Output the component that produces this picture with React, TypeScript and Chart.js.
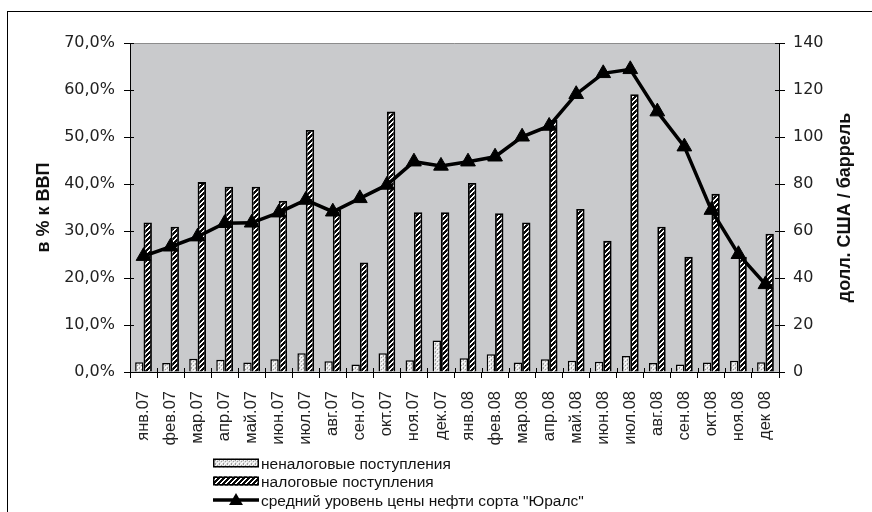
import React, { useEffect, useRef } from 'react';
import { Chart, registerables } from 'chart.js';

Chart.register(...registerables);

const categories = [
  'янв.07', 'фев.07', 'мар.07', 'апр.07', 'май.07', 'июн.07', 'июл.07', 'авг.07',
  'сен.07', 'окт.07', 'ноя.07', 'дек.07', 'янв.08', 'фев.08', 'мар.08', 'апр.08',
  'май.08', 'июн.08', 'июл.08', 'авг.08', 'сен.08', 'окт.08', 'ноя.08', 'дек 08',
];

// % of GDP
const nonTaxRevenue = [2.1, 1.9, 2.8, 2.6, 2.0, 2.7, 4.0, 2.3, 1.6, 4.0, 2.5, 6.7, 2.9, 3.8, 2.0, 2.7, 2.4, 2.2, 3.4, 1.9, 1.6, 2.0, 2.4, 2.1];
const taxRevenue = [31.8, 30.9, 40.4, 39.4, 39.4, 36.4, 51.5, 34.5, 23.3, 55.4, 34.0, 34.0, 40.2, 33.8, 31.8, 53.6, 34.7, 27.9, 59.1, 30.9, 24.5, 37.9, 24.5, 29.4];
// USD / barrel
const uralsPrice = [49.3, 53.3, 57.6, 63.3, 63.5, 67.8, 73.2, 68.2, 73.9, 79.6, 89.5, 87.7, 89.5, 91.6, 100.1, 104.7, 118.2, 127.1, 128.8, 110.8, 95.9, 68.9, 50.1, 37.3];

const leftAxisRange = [0, 70, 10];
const rightAxisRange = [0, 140, 20];

const seriesLabels = [
  'неналоговые поступления',
  'налоговые поступления',
  'средний уровень цены нефти сорта "Юралс"',
];
const leftTitle = 'в % к ВВП';
const rightTitle = 'долл. США / баррель';

function makeHatch(): CanvasPattern | string {
  const n = 5;
  const c = document.createElement('canvas');
  c.width = n; c.height = n;
  const g = c.getContext('2d');
  if (!g) return '#333';
  g.fillStyle = '#ffffff';
  g.fillRect(0, 0, n, n);
  g.fillStyle = '#0a0a0a';
  for (let x = 0; x < n; x++) for (let y = 0; y < n; y++) if ((x + y) % n < 3) g.fillRect(x, y, 1, 1);
  return g.createPattern(c, 'repeat') || '#333';
}

function makeDots(): CanvasPattern | string {
  const c = document.createElement('canvas');
  c.width = 4; c.height = 4;
  const g = c.getContext('2d');
  if (!g) return '#ddd';
  g.fillStyle = '#e4e4e4';
  g.fillRect(0, 0, 4, 4);
  g.fillStyle = '#ffffff';
  g.fillRect(0, 0, 1, 1); g.fillRect(2, 2, 1, 1); g.fillRect(1, 3, 1, 1);
  g.fillStyle = '#a0a0a0';
  g.fillRect(1, 1, 1, 1); g.fillRect(3, 3, 1, 1); g.fillRect(3, 0, 1, 1);
  return g.createPattern(c, 'repeat') || '#ddd';
}

function drawTriangle(ctx: CanvasRenderingContext2D, x: number, y: number, r: number) {
  ctx.beginPath();
  for (let i = 0; i < 3; i++) {
    const a = (i * 2 * Math.PI) / 3;
    const px = x + Math.sin(a) * r;
    const py = y - Math.cos(a) * r;
    if (i === 0) ctx.moveTo(px, py); else ctx.lineTo(px, py);
  }
  ctx.closePath();
  ctx.fill();
}

export default function App() {
  const ref = useRef<HTMLCanvasElement>(null);

  useEffect(() => {
    document.body.style.margin = '0';
    const canvas = ref.current;
    if (!canvas) return;
    const hatch = makeHatch();
    const dots = makeDots();

    const decor = {
      id: 'decor',
      beforeDraw(chart: any) {
        const { ctx, chartArea: a } = chart;
        ctx.save();
        ctx.fillStyle = '#ffffff';
        ctx.fillRect(0, 0, chart.width, chart.height);
        ctx.fillStyle = '#c9cacc';
        ctx.fillRect(a.left, a.top, a.right - a.left, a.bottom - a.top);
        ctx.strokeStyle = '#8c8c8c';
        ctx.lineWidth = 1;
        ctx.beginPath();
        ctx.moveTo(a.left, a.top + 0.5);
        ctx.lineTo(a.right, a.top + 0.5);
        ctx.stroke();
        ctx.strokeStyle = '#000';
        ctx.strokeRect(7.5, 11.5, chart.width, chart.height);
        ctx.restore();
      },
      afterDraw(chart: any) {
        const { ctx, chartArea: a, scales } = chart;
        ctx.save();
        // inner tick parts
        ctx.strokeStyle = '#000';
        ctx.lineWidth = 1;
        ctx.beginPath();
        scales.y.ticks.forEach((t: any) => {
          const py = Math.round(scales.y.getPixelForValue(t.value)) + 0.5;
          ctx.moveTo(a.left, py); ctx.lineTo(a.left + 4, py);
        });
        scales.y2.ticks.forEach((t: any) => {
          const py = Math.round(scales.y2.getPixelForValue(t.value)) + 0.5;
          ctx.moveTo(a.right - 4, py); ctx.lineTo(a.right, py);
        });
        const half = (scales.x.getPixelForValue(1) - scales.x.getPixelForValue(0)) / 2;
        for (let i = 0; i <= categories.length; i++) {
          const px = Math.round(scales.x.getPixelForValue(i) - half) + 0.5;
          ctx.moveTo(px, a.bottom); ctx.lineTo(px, a.bottom - 4);
        }
        ctx.stroke();

        // axis titles
        const cy = (a.top + a.bottom) / 2;
        ctx.fillStyle = '#111';
        ctx.font = 'bold 18px "Liberation Sans", Arial, sans-serif';
        ctx.textAlign = 'center';
        ctx.textBaseline = 'alphabetic';
        ctx.save();
        ctx.translate(49, cy);
        ctx.rotate(-Math.PI / 2);
        ctx.fillText(leftTitle, 0, 0);
        ctx.restore();
        ctx.save();
        ctx.translate(850, cy);
        ctx.rotate(-Math.PI / 2);
        ctx.fillText(rightTitle, 0, 0);
        ctx.restore();

        // legend
        const lx = 213, lw = 46, tx = 261;
        const rows = [463, 481, 500];
        ctx.font = '15.5px "Liberation Sans", Arial, sans-serif';
        ctx.textAlign = 'left';
        ctx.textBaseline = 'middle';
        [dots, hatch].forEach((p, i) => {
          ctx.fillStyle = p as any;
          ctx.fillRect(lx, rows[i] - 4.5, lw, 9);
          ctx.strokeStyle = '#000';
          ctx.lineWidth = 1.5;
          ctx.strokeRect(lx + 0.75, rows[i] - 4.5 + 0.75, lw - 1.5, 9 - 1.5);
        });
        ctx.strokeStyle = '#000';
        ctx.lineWidth = 3.5;
        ctx.beginPath();
        ctx.moveTo(lx, rows[2]); ctx.lineTo(lx + lw, rows[2]);
        ctx.stroke();
        ctx.fillStyle = '#000';
        drawTriangle(ctx, lx + lw / 2, rows[2] + 1, 8);
        ctx.fillStyle = '#111';
        seriesLabels.forEach((s, i) => ctx.fillText(s, tx, rows[i] + 2));
        ctx.restore();
      },
    };

    const numFont = { family: '"DejaVu Sans", sans-serif', size: 16 };

    const chart = new Chart(canvas, {
      type: 'bar',
      data: {
        labels: categories,
        datasets: [
          {
            type: 'line',
            label: seriesLabels[2],
            data: uralsPrice,
            yAxisID: 'y2',
            borderColor: '#000',
            backgroundColor: '#000',
            borderWidth: 3.5,
            pointStyle: 'triangle',
            pointRadius: 8.5,
            pointBackgroundColor: '#000',
            pointBorderColor: '#000',
            pointBorderWidth: 1,
            tension: 0,
            order: 0,
          } as any,
          {
            type: 'bar',
            label: seriesLabels[0],
            data: nonTaxRevenue,
            yAxisID: 'y',
            backgroundColor: dots as any,
            borderColor: '#000',
            borderWidth: 1.5,
            categoryPercentage: 0.62,
            barPercentage: 1,
            order: 1,
          },
          {
            type: 'bar',
            label: seriesLabels[1],
            data: taxRevenue,
            yAxisID: 'y',
            backgroundColor: hatch as any,
            borderColor: '#000',
            borderWidth: 1.8,
            categoryPercentage: 0.62,
            barPercentage: 1,
            order: 1,
          },
        ],
      },
      options: {
        responsive: false,
        maintainAspectRatio: false,
        animation: false,
        devicePixelRatio: 1,
        layout: { padding: { top: 43, left: 0, right: 0, bottom: 0 } },
        plugins: { legend: { display: false }, tooltip: { enabled: false } },
        scales: {
          x: {
            grid: { display: true, drawOnChartArea: false, drawTicks: true, tickLength: 6, color: '#000', offset: true },
            border: { display: true, color: '#000', width: 1 },
            ticks: {
              autoSkip: false,
              maxRotation: 90,
              minRotation: 90,
              padding: 13,
              color: '#222',
              font: { family: '"Liberation Sans", Arial, sans-serif', size: 16.5 },
            },
            afterFit: (s: any) => { s.height = 140; },
          },
          y: {
            position: 'left',
            min: leftAxisRange[0],
            max: leftAxisRange[1],
            grid: { display: true, drawOnChartArea: false, drawTicks: true, tickLength: 6, color: '#000' },
            border: { display: true, color: '#000', width: 1 },
            ticks: {
              stepSize: leftAxisRange[2],
              padding: 9,
              color: '#222',
              font: numFont,
              callback: (v: any) => Number(v).toFixed(1).replace('.', ',') + '%',
            },
            afterFit: (s: any) => { s.width = 130; },
          },
          y2: {
            position: 'right',
            min: rightAxisRange[0],
            max: rightAxisRange[1],
            grid: { display: true, drawOnChartArea: false, drawTicks: true, tickLength: 6, color: '#000' },
            border: { display: true, color: '#000', width: 1 },
            ticks: {
              stepSize: rightAxisRange[2],
              padding: 8,
              color: '#222',
              font: numFont,
            },
            afterFit: (s: any) => { s.width = 93; },
          },
        },
      },
      plugins: [decor],
    } as any);

    return () => chart.destroy();
  }, []);

  return (
    <div style={{ position: 'absolute', left: 0, top: 0, width: 872, height: 512, background: '#fff' }}>
      <canvas ref={ref} width={872} height={512} style={{ display: 'block', width: 872, height: 512 }} />
    </div>
  );
}
